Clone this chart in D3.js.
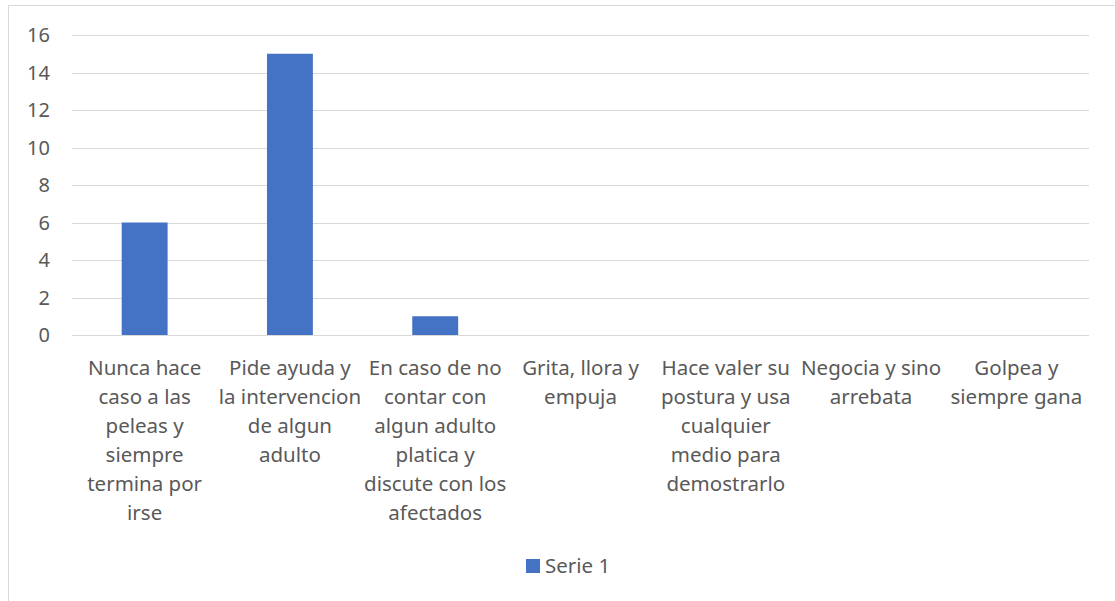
<!DOCTYPE html>
<html>
<head>
<meta charset="utf-8">
<script src="https://cdn.jsdelivr.net/npm/d3@7"></script>
<style>
  body { margin: 0; background: #fff; }
  svg text { font-family: "Noto Sans", "Open Sans", sans-serif; fill: #595959; }
</style>
</head>
<body>
<svg width="1115" height="601"></svg>
<script>
// categories (line breaks as in the original chart)
const categories = [
  'Nunca hace\ncaso a las\npeleas y\nsiempre\ntermina por\nirse',
  'Pide ayuda y\nla intervencion\nde algun\nadulto',
  'En caso de no\ncontar con\nalgun adulto\nplatica y\ndiscute con los\nafectados',
  'Grita, llora y\nempuja',
  'Hace valer su\npostura y usa\ncualquier\nmedio para\ndemostrarlo',
  'Negocia y sino\narrebata',
  'Golpea y\nsiempre gana'
];
const serie1 = [6, 15, 1, 0, 0, 0, 0];
const yTicks = [0, 2, 4, 6, 8, 10, 12, 14, 16];
const seriesName = 'Serie 1';

const svg = d3.select('svg');
const width = +svg.attr('width');
const height = +svg.attr('height');

// chart border
svg.append('rect')
  .attr('x', 8.5).attr('y', 5.5)
  .attr('width', width).attr('height', height)
  .attr('fill', 'none')
  .attr('stroke', '#d9d9d9');

const x = d3.scaleBand()
  .domain(d3.range(categories.length))
  .range([72, 1089])
  .padding(0);

const y = d3.scaleLinear()
  .domain([0, 16])
  .range([335, 35]);

// gridlines
svg.append('g')
  .selectAll('line')
  .data(yTicks)
  .enter()
  .append('line')
  .attr('x1', 72).attr('x2', 1089)
  .attr('y1', d => Math.round(y(d)) + 0.5)
  .attr('y2', d => Math.round(y(d)) + 0.5)
  .attr('stroke', '#d9d9d9')
  .attr('stroke-width', 1);

// y tick labels
svg.append('g')
  .selectAll('text')
  .data(yTicks)
  .enter()
  .append('text')
  .attr('x', 50)
  .attr('y', d => y(d))
  .attr('dy', '0.36em')
  .attr('text-anchor', 'end')
  .style('font-size', '20px')
  .text(d => d);

// bars: gap width like the spreadsheet default
const barW = x.bandwidth() * 0.316;
svg.append('g')
  .selectAll('rect')
  .data(serie1)
  .enter()
  .append('rect')
  .attr('x', (d, i) => x(i) + x.bandwidth() / 2 - barW / 2)
  .attr('y', d => y(d))
  .attr('width', barW)
  .attr('height', d => y(0) - y(d))
  .attr('fill', '#4472c4');

// category labels
const labels = svg.append('g')
  .selectAll('text')
  .data(categories)
  .enter()
  .append('text')
  .attr('text-anchor', 'middle')
  .style('font-size', '20.5px');

labels.selectAll('tspan')
  .data((d, i) => d.split('\n').map(t => ({t, i})))
  .enter()
  .append('tspan')
  .attr('x', d => x(d.i) + x.bandwidth() / 2)
  .attr('y', (d, j) => 375 + j * 29)
  .text(d => d.t);

// legend
const legend = svg.append('g');
legend.append('rect')
  .attr('x', 526).attr('y', 559)
  .attr('width', 14).attr('height', 14)
  .attr('fill', '#4472c4');
legend.append('text')
  .attr('x', 545).attr('y', 573)
  .style('font-size', '20.5px')
  .text(seriesName);
</script>
</body>
</html>
